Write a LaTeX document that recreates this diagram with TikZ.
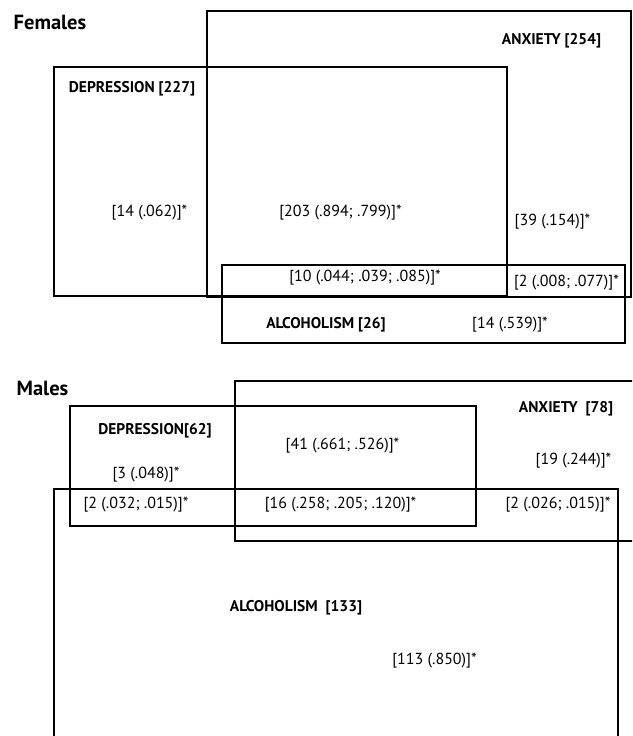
\documentclass[tikz,border=0pt]{standalone}
\usepackage{fontspec}
\setmainfont{PT Sans}
\usetikzlibrary{fit}
\tikzset{
  area/.style={draw, line width=1.3pt, inner sep=0pt, fit={#1}},
  lbl/.style={font=\fontsize{15.5}{17}\selectfont\bfseries, inner sep=0pt},
  head/.style={font=\fontsize{20.5}{22}\selectfont\bfseries, inner sep=0pt},
  val/.style={font=\fontsize{16}{18}\selectfont, inner sep=0pt}
}
\begin{document}
\begin{tikzpicture}[x=1pt,y=-1pt]
\useasboundingbox (0,0) rectangle (632,736);
\clip (0,0) rectangle (632,736);
% Females
\node[head] (fem) at (50,22) {Females};
\node[area={(207,11) (631,297)}] (fAnx) {};
\node[area={(54,67) (507,296)}] (fDep) {};
\node[area={(222,265) (625,343)}] (fAlc) {};
\node[lbl] (fDepL) at (132,89) {DEPRESSION [227]};
\node[lbl] (fAnxL) at (551.5,41) {ANXIETY [254]};
\node[val] (v1) at (149.5,213) {[14 (.062)]*};
\node[val] (v2) at (340.5,213) {[203 (.894; .799)]*};
\node[val] (v3) at (552.5,222) {[39 (.154)]*};
\node[val] (v4) at (365,278) {[10 (.044; .039; .085)]*};
\node[val] (v5) at (566.5,283) {[2 (.008; .077)]*};
\node[lbl] (fAlcL) at (326,325) {ALCOHOLISM [26]};
\node[val] (v6) at (510,325) {[14 (.539)]*};
% Males
\node[head] (mal) at (42.5,388) {Males};
\node[area={(235,381) (660,541)}] (mAnx) {};
\node[area={(70,406) (476,526)}] (mDep) {};
\node[area={(54,489) (618,760)}] (mAlc) {};
\node[lbl] (mDepL) at (155,431) {DEPRESSION[62]};
\node[lbl] (mAnxL) at (566,409) {ANXIETY\ \ [78]};
\node[val] (w1) at (342.5,446) {[41 (.661; .526)]*};
\node[val] (w2) at (146,475) {[3 (.048)]*};
\node[val] (w3) at (573.5,461) {[19 (.244)]*};
\node[val] (w4) at (136,505) {[2 (.032; .015)]*};
\node[val] (w5) at (340.5,505) {[16 (.258; .205; .120)]*};
\node[val] (w6) at (558,505) {[2 (.026; .015)]*};
\node[lbl] (mAlcL) at (296,608) {ALCOHOLISM\ \ [133]};
\node[val] (w7) at (434.5,661) {[113 (.850)]*};
\end{tikzpicture}
\end{document}
